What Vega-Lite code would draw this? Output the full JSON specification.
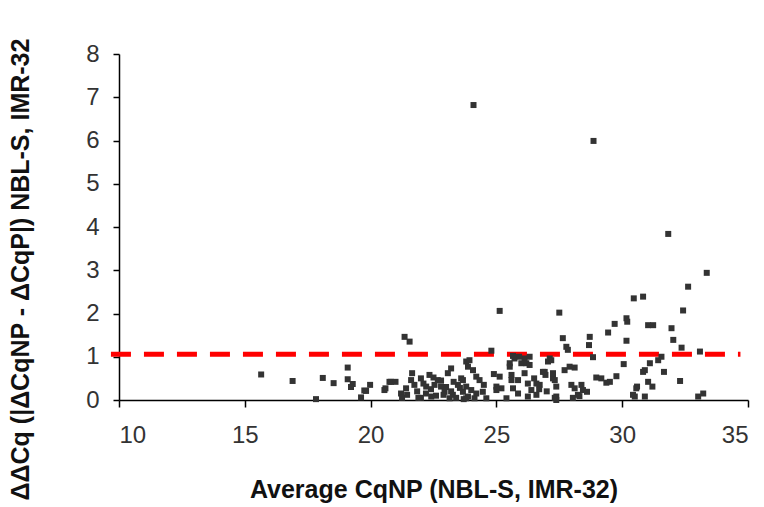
{
  "$schema": "https://vega.github.io/schema/vega-lite/v6.json",
  "autosize": {"type": "none"},
  "width": 629,
  "height": 346,
  "padding": {"left": 119, "top": 54, "right": 16, "bottom": 107},
  "background": "white",
  "config": {
    "view": {"stroke": null},
    "axis": {
      "grid": false,
      "domainColor": "#000000",
      "domainWidth": 1.5,
      "tickColor": "#000000",
      "tickWidth": 1.5,
      "tickSize": 7,
      "labelFont": "Liberation Sans",
      "labelFontSize": 24,
      "labelColor": "#333333",
      "titleFont": "Liberation Sans",
      "titleFontSize": 25,
      "titleFontWeight": "bold",
      "titleColor": "#111111"
    }
  },
  "layer": [
    {
      "data": {"values": [{"x": 9.68, "y": 1.06}, {"x": 34.7, "y": 1.06}]},
      "mark": {"type": "line", "color": "#ff0000", "strokeWidth": 5, "strokeDash": [20, 13], "clip": false},
      "encoding": {
        "x": {"field": "x", "type": "quantitative", "scale": {"domain": [10, 35]}},
        "y": {"field": "y", "type": "quantitative", "scale": {"domain": [0, 8]}}
      }
    },
    {
      "data": {"values": [
        {"cq": 15.65, "ddcq": 0.59}, {"cq": 16.9, "ddcq": 0.44}, {"cq": 17.83, "ddcq": 0.02}, {"cq": 18.1, "ddcq": 0.51},
        {"cq": 18.53, "ddcq": 0.39}, {"cq": 19.09, "ddcq": 0.75}, {"cq": 19.09, "ddcq": 0.48}, {"cq": 19.29, "ddcq": 0.37},
        {"cq": 19.22, "ddcq": 0.3}, {"cq": 19.62, "ddcq": 0.06}, {"cq": 19.75, "ddcq": 0.22}, {"cq": 19.98, "ddcq": 0.35},
        {"cq": 20.59, "ddcq": 0.27}, {"cq": 20.81, "ddcq": 0.42}, {"cq": 20.99, "ddcq": 0.42}, {"cq": 21.21, "ddcq": 0.15},
        {"cq": 21.25, "ddcq": 0.05}, {"cq": 21.35, "ddcq": 1.46}, {"cq": 21.55, "ddcq": 1.35}, {"cq": 21.65, "ddcq": 0.62},
        {"cq": 21.61, "ddcq": 0.46}, {"cq": 21.74, "ddcq": 0.35}, {"cq": 22.0, "ddcq": 0.5}, {"cq": 22.34, "ddcq": 0.58},
        {"cq": 22.21, "ddcq": 0.31}, {"cq": 22.41, "ddcq": 0.08}, {"cq": 22.54, "ddcq": 0.35}, {"cq": 22.67, "ddcq": 0.46},
        {"cq": 22.8, "ddcq": 0.31}, {"cq": 22.94, "ddcq": 0.19}, {"cq": 23.07, "ddcq": 0.62}, {"cq": 23.2, "ddcq": 0.73},
        {"cq": 23.14, "ddcq": 0.04}, {"cq": 23.27, "ddcq": 0.12}, {"cq": 23.47, "ddcq": 0.35}, {"cq": 23.6, "ddcq": 0.5},
        {"cq": 23.67, "ddcq": 0.19}, {"cq": 23.8, "ddcq": 0.89}, {"cq": 23.87, "ddcq": 0.08}, {"cq": 21.41, "ddcq": 0.27},
        {"cq": 21.45, "ddcq": 0.12}, {"cq": 22.0, "ddcq": 0.05}, {"cq": 22.2, "ddcq": 0.15}, {"cq": 22.4, "ddcq": 0.25},
        {"cq": 22.6, "ddcq": 0.1}, {"cq": 22.8, "ddcq": 0.45}, {"cq": 23.0, "ddcq": 0.3}, {"cq": 23.2, "ddcq": 0.2},
        {"cq": 23.4, "ddcq": 0.05}, {"cq": 23.55, "ddcq": 0.28}, {"cq": 21.85, "ddcq": 0.2}, {"cq": 21.9, "ddcq": 0.05},
        {"cq": 22.1, "ddcq": 0.38}, {"cq": 22.5, "ddcq": 0.52}, {"cq": 22.9, "ddcq": 0.12}, {"cq": 23.3, "ddcq": 0.42},
        {"cq": 23.7, "ddcq": 0.02}, {"cq": 25.13, "ddcq": 2.06}, {"cq": 24.8, "ddcq": 1.14}, {"cq": 27.5, "ddcq": 2.02},
        {"cq": 23.93, "ddcq": 0.92}, {"cq": 23.87, "ddcq": 0.77}, {"cq": 24.07, "ddcq": 0.69}, {"cq": 24.2, "ddcq": 0.54},
        {"cq": 24.33, "ddcq": 0.46}, {"cq": 23.67, "ddcq": 0.46}, {"cq": 23.8, "ddcq": 0.31}, {"cq": 24.0, "ddcq": 0.23},
        {"cq": 24.2, "ddcq": 0.15}, {"cq": 24.46, "ddcq": 0.19}, {"cq": 23.8, "ddcq": 0.04}, {"cq": 24.13, "ddcq": 0.04},
        {"cq": 24.6, "ddcq": 0.04}, {"cq": 25.13, "ddcq": 0.54}, {"cq": 25.2, "ddcq": 0.27}, {"cq": 25.0, "ddcq": 0.23},
        {"cq": 25.4, "ddcq": 0.04}, {"cq": 25.53, "ddcq": 0.77}, {"cq": 25.6, "ddcq": 0.58}, {"cq": 25.72, "ddcq": 0.96},
        {"cq": 25.86, "ddcq": 0.46}, {"cq": 25.66, "ddcq": 0.27}, {"cq": 25.86, "ddcq": 0.15}, {"cq": 25.99, "ddcq": 0.85},
        {"cq": 26.12, "ddcq": 0.96}, {"cq": 26.12, "ddcq": 0.62}, {"cq": 26.25, "ddcq": 0.38}, {"cq": 26.39, "ddcq": 0.23},
        {"cq": 26.59, "ddcq": 0.38}, {"cq": 26.72, "ddcq": 0.35}, {"cq": 26.85, "ddcq": 0.65}, {"cq": 26.95, "ddcq": 0.58},
        {"cq": 27.05, "ddcq": 0.89}, {"cq": 27.12, "ddcq": 0.96}, {"cq": 27.25, "ddcq": 0.5}, {"cq": 27.38, "ddcq": 0.08},
        {"cq": 26.59, "ddcq": 0.12}, {"cq": 26.25, "ddcq": 0.08}, {"cq": 25.53, "ddcq": 0.85}, {"cq": 25.66, "ddcq": 1.02},
        {"cq": 25.9, "ddcq": 1.0}, {"cq": 26.19, "ddcq": 0.85}, {"cq": 25.0, "ddcq": 0.31}, {"cq": 25.6, "ddcq": 0.46},
        {"cq": 27.64, "ddcq": 1.43}, {"cq": 27.78, "ddcq": 1.23}, {"cq": 27.84, "ddcq": 1.16}, {"cq": 27.18, "ddcq": 0.92},
        {"cq": 27.25, "ddcq": 0.62}, {"cq": 27.32, "ddcq": 0.46}, {"cq": 27.38, "ddcq": 0.31}, {"cq": 27.32, "ddcq": 0.05},
        {"cq": 27.71, "ddcq": 0.69}, {"cq": 27.91, "ddcq": 0.77}, {"cq": 28.11, "ddcq": 0.75}, {"cq": 27.98, "ddcq": 0.35},
        {"cq": 28.11, "ddcq": 0.27}, {"cq": 28.24, "ddcq": 0.12}, {"cq": 28.38, "ddcq": 0.35}, {"cq": 28.44, "ddcq": 0.23},
        {"cq": 28.71, "ddcq": 1.46}, {"cq": 28.68, "ddcq": 1.27}, {"cq": 28.84, "ddcq": 0.99}, {"cq": 28.97, "ddcq": 0.52},
        {"cq": 29.17, "ddcq": 0.5}, {"cq": 29.51, "ddcq": 0.42}, {"cq": 29.77, "ddcq": 0.55}, {"cq": 29.44, "ddcq": 1.56},
        {"cq": 29.7, "ddcq": 1.76}, {"cq": 30.17, "ddcq": 1.89}, {"cq": 30.2, "ddcq": 1.81}, {"cq": 30.17, "ddcq": 1.37},
        {"cq": 30.06, "ddcq": 0.83}, {"cq": 30.46, "ddcq": 2.35}, {"cq": 30.83, "ddcq": 2.39}, {"cq": 30.59, "ddcq": 0.31},
        {"cq": 30.5, "ddcq": 0.08}, {"cq": 30.9, "ddcq": 0.08}, {"cq": 31.03, "ddcq": 1.73}, {"cq": 30.9, "ddcq": 0.69},
        {"cq": 31.03, "ddcq": 0.42}, {"cq": 31.83, "ddcq": 3.84}, {"cq": 33.36, "ddcq": 2.94}, {"cq": 32.62, "ddcq": 2.62},
        {"cq": 32.42, "ddcq": 2.07}, {"cq": 31.23, "ddcq": 1.73}, {"cq": 31.96, "ddcq": 1.66}, {"cq": 32.03, "ddcq": 1.39},
        {"cq": 32.36, "ddcq": 1.21}, {"cq": 33.09, "ddcq": 1.12}, {"cq": 31.56, "ddcq": 1.0}, {"cq": 31.43, "ddcq": 0.92},
        {"cq": 31.1, "ddcq": 0.85}, {"cq": 30.83, "ddcq": 0.65}, {"cq": 31.66, "ddcq": 0.65}, {"cq": 32.3, "ddcq": 0.44},
        {"cq": 31.2, "ddcq": 0.31}, {"cq": 33.02, "ddcq": 0.08}, {"cq": 33.22, "ddcq": 0.15}, {"cq": 24.09, "ddcq": 6.82},
        {"cq": 28.86, "ddcq": 5.99}, {"cq": 28.6, "ddcq": 0.19}, {"cq": 27.38, "ddcq": 0.0}, {"cq": 26.92, "ddcq": 0.65},
        {"cq": 26.32, "ddcq": 1.0}, {"cq": 26.32, "ddcq": 0.81}, {"cq": 30.56, "ddcq": 0.27}, {"cq": 30.43, "ddcq": 0.12},
        {"cq": 28.04, "ddcq": 0.05}, {"cq": 28.3, "ddcq": 0.09}, {"cq": 29.37, "ddcq": 0.4}, {"cq": 26.7, "ddcq": 0.25},
        {"cq": 27.0, "ddcq": 0.2}, {"cq": 19.82, "ddcq": 0.21}, {"cq": 20.55, "ddcq": 0.23}, {"cq": 20.75, "ddcq": 0.42},
        {"cq": 24.5, "ddcq": 0.35}, {"cq": 24.9, "ddcq": 0.6}, {"cq": 26.5, "ddcq": 0.5}
      ]},
      "mark": {"type": "point", "shape": "square", "filled": true, "size": 36, "color": "#333333", "opacity": 1},
      "encoding": {
        "x": {
          "field": "cq", "type": "quantitative",
          "scale": {"domain": [10, 35], "nice": false, "zero": false},
          "axis": {
            "values": [10, 15, 20, 25, 30, 35],
            "labelPadding": 16,
            "title": "Average CqNP (NBL-S, IMR-32)",
            "titleY": 97,
            "titleBaseline": "alphabetic"
          }
        },
        "y": {
          "field": "ddcq", "type": "quantitative",
          "scale": {"domain": [0, 8], "nice": false},
          "axis": {
            "values": [0, 1, 2, 3, 4, 5, 6, 7, 8],
            "labelPadding": 14,
            "tickSize": 6,
            "title": "ΔΔCq (|ΔCqNP - ΔCqP|) NBL-S, IMR-32",
            "titleAngle": -90,
            "titleX": -91,
            "titleY": 215,
            "titleAlign": "center",
            "titleBaseline": "alphabetic"
          }
        }
      }
    }
  ]
}
